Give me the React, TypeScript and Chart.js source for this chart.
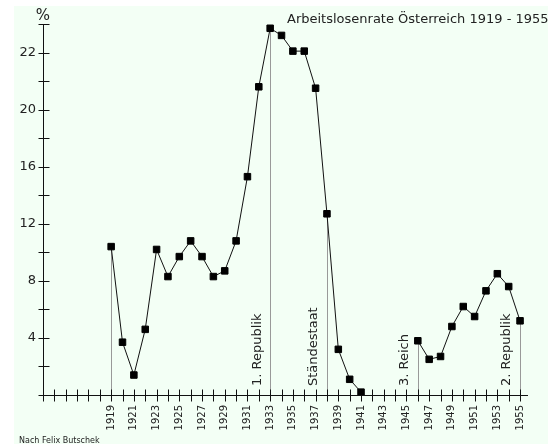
import React, { useEffect, useRef } from "react";
import { Chart, registerables } from "chart.js";

Chart.register(...registerables);

const years = [
  1919, 1920, 1921, 1922, 1923, 1924, 1925, 1926, 1927, 1928, 1929, 1930,
  1931, 1932, 1933, 1934, 1935, 1936, 1937, 1938, 1939, 1940, 1941, 1942,
  1943, 1944, 1945, 1946, 1947, 1948, 1949, 1950, 1951, 1952, 1953, 1954, 1955,
];
const rates: (number | null)[] = [
  10.4, 3.7, 1.4, 4.6, 10.2, 8.3, 9.7, 10.8, 9.7, 8.3, 8.7, 10.8,
  15.3, 21.6, 25.7, 25.2, 24.1, 24.1, 21.5, 12.7, 3.2, 1.1, 0.2, null,
  null, null, null, 3.8, 2.5, 2.7, 4.8, 6.2, 5.5, 7.3, 8.5, 7.6, 5.2,
];
const xLabelYears = [
  1919, 1921, 1923, 1925, 1927, 1929, 1931, 1933, 1935, 1937, 1939, 1941,
  1943, 1945, 1947, 1949, 1951, 1953, 1955,
];
const yLabelValues = [4, 8, 12, 16, 20, 24];
const yLabelTexts = ["4", "8", "12", "16", "20", "22"];
const eraYears = [1919, 1933, 1938, 1946, 1955];
const eraLabels = ["", "1. Republik", "Ständestaat", "3. Reich", "2. Republik"];
const titleText = "Arbeitslosenrate Österreich 1919 - 1955";
const unitText = "%";
const sourceText = "Nach Felix Butschek";

const FONT = '"DejaVu Sans", sans-serif';
const BG = "#f3fff5";
const INK = "#111";

const decorPlugin = {
  id: "decor",
  beforeDraw(chart: any) {
    const ctx = chart.ctx;
    ctx.save();
    ctx.fillStyle = "#ffffff";
    ctx.fillRect(0, 0, chart.width, chart.height);
    ctx.fillStyle = BG;
    ctx.fillRect(14, 6, chart.width - 14, chart.height - 6);
    ctx.restore();
  },
  beforeDatasetsDraw(chart: any) {
    const ctx = chart.ctx;
    const xs = chart.scales.x;
    const ys = chart.scales.y;
    const area = chart.chartArea;
    ctx.save();
    // era lines
    ctx.strokeStyle = "#999999";
    ctx.lineWidth = 1;
    ctx.beginPath();
    eraYears.forEach((yr) => {
      const idx = years.indexOf(yr);
      const v = rates[idx] as number;
      const px = Math.round(xs.getPixelForValue(yr)) + 0.5;
      ctx.moveTo(px, ys.getPixelForValue(v));
      ctx.lineTo(px, area.bottom);
    });
    ctx.stroke();
    // axes with cross ticks
    ctx.strokeStyle = INK;
    ctx.beginPath();
    const bx = Math.round(area.bottom) + 0.5;
    const lx = Math.round(area.left) + 0.5;
    ctx.moveTo(area.left, bx);
    ctx.lineTo(area.right, bx);
    ctx.moveTo(lx, area.top);
    ctx.lineTo(lx, area.bottom + 6);
    xs.ticks.forEach((t: any) => {
      const px = Math.round(xs.getPixelForValue(t.value)) + 0.5;
      ctx.moveTo(px, bx - 6);
      ctx.lineTo(px, bx + 6);
    });
    ys.ticks.forEach((t: any) => {
      const py = Math.round(ys.getPixelForValue(t.value)) + 0.5;
      ctx.moveTo(lx - 5, py);
      ctx.lineTo(lx + 6, py);
    });
    ctx.stroke();
    // era labels
    ctx.fillStyle = "#222";
    ctx.font = "13px " + FONT;
    ctx.textAlign = "left";
    ctx.textBaseline = "middle";
    eraYears.forEach((yr, i) => {
      if (!eraLabels[i]) return;
      const px = xs.getPixelForValue(yr);
      ctx.save();
      ctx.translate(px - 13, area.bottom - 9);
      ctx.rotate(-Math.PI / 2);
      ctx.fillText(eraLabels[i], 0, 0);
      ctx.restore();
    });
    ctx.restore();
  },
  afterDraw(chart: any) {
    const ctx = chart.ctx;
    const area = chart.chartArea;
    ctx.save();
    ctx.fillStyle = "#222";
    ctx.textBaseline = "alphabetic";
    ctx.textAlign = "left";
    ctx.font = "13px " + FONT;
    ctx.fillText(titleText, 287, 22.5);
    ctx.font = "15px " + FONT;
    ctx.textAlign = "center";
    ctx.fillText(unitText, area.left, 20);
    ctx.font = "8px " + FONT;
    ctx.textAlign = "left";
    ctx.fillText(sourceText, 19, 443);
    ctx.restore();
  },
};

export default function App() {
  const ref = useRef<HTMLCanvasElement | null>(null);
  useEffect(() => {
    document.body.style.margin = "0";
    const canvas = ref.current;
    if (!canvas) return;
    const chart = new Chart(canvas, {
      type: "line",
      data: {
        datasets: [
          {
            data: years.map((yr, i) => ({ x: yr, y: rates[i] })) as any,
            borderColor: "#111",
            borderWidth: 1,
            pointStyle: "rect",
            pointRadius: 4.6,
            pointBackgroundColor: "#000",
            pointBorderColor: "#000",
            pointBorderWidth: 1,
            spanGaps: false,
            tension: 0,
          },
        ],
      },
      options: {
        animation: false,
        responsive: false,
        devicePixelRatio: 1,
        layout: { padding: { left: 0, top: 24, right: 20, bottom: 0 } },
        plugins: {
          legend: { display: false },
          tooltip: { enabled: false },
          title: { display: false },
        },
        scales: {
          x: {
            type: "linear",
            min: 1913,
            max: 1955.7,
            afterFit: (scale: any) => {
              scale.height = 49;
            },
            ticks: {
              stepSize: 1,
              includeBounds: false,
              autoSkip: false,
              minRotation: 90,
              maxRotation: 90,
              padding: 4,
              color: "#222",
              font: { family: FONT, size: 10 },
              callback: (v: any) => (xLabelYears.includes(Number(v)) ? String(v) : ""),
            },
            grid: {
              display: true,
              drawOnChartArea: false,
              drawTicks: true,
              tickLength: 6,
              color: "rgba(0,0,0,0)",
            },
            border: { display: false },
          },
          y: {
            type: "linear",
            min: 0,
            max: 26,
            afterFit: (scale: any) => {
              scale.width = 43;
            },
            ticks: {
              stepSize: 2,
              autoSkip: false,
              padding: 2,
              color: "#222",
              font: { family: FONT, size: 13 },
              callback: (v: any) => {
                const k = yLabelValues.indexOf(Number(v));
                return k >= 0 ? yLabelTexts[k] : "";
              },
            },
            grid: {
              display: true,
              drawOnChartArea: false,
              drawTicks: true,
              tickLength: 5,
              color: "rgba(0,0,0,0)",
            },
            border: { display: false },
          },
        },
      },
      plugins: [decorPlugin],
    });
    return () => chart.destroy();
  }, []);
  return <canvas ref={ref} width={548} height={444} style={{ display: "block" }} />;
}
